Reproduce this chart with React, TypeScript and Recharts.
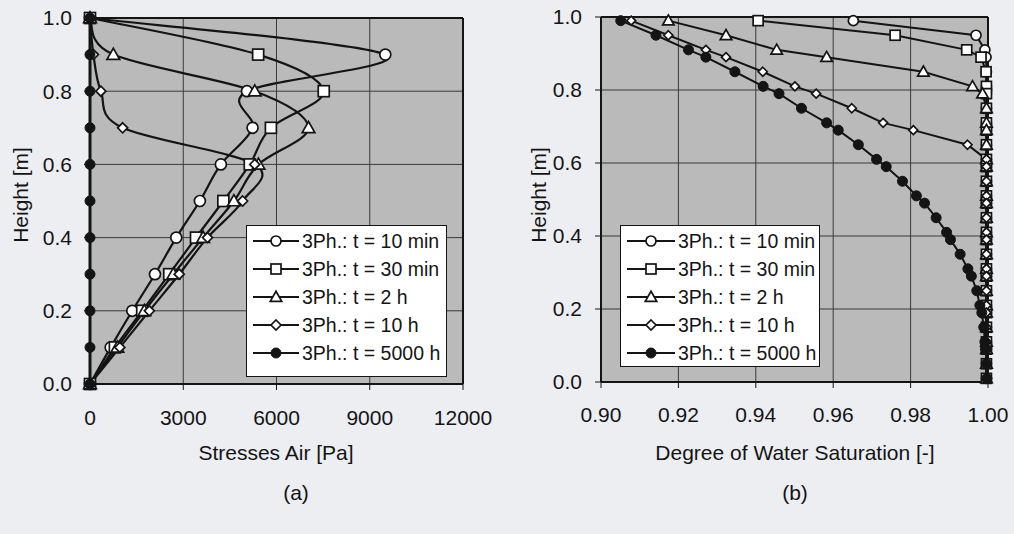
import React from "react";
import { LineChart, Line, XAxis, YAxis, CartesianGrid, ReferenceLine } from "recharts";

// (a) stresses in the air phase, nodes every 0.1 m
const heightsA = [1.0, 0.9, 0.8, 0.7, 0.6, 0.5, 0.4, 0.3, 0.2, 0.1, 0.0];
const stress10min = [0, 9500, 5050, 5230, 4210, 3535, 2775, 2090, 1360, 665, 0];
const stress30min = [0, 5410, 7520, 5820, 5140, 4290, 3410, 2550, 1680, 800, 0];
const stress2h = [0, 750, 5300, 7030, 5420, 4630, 3640, 2680, 1750, 880, 0];
const stress10h = [0, 110, 350, 1050, 5300, 4910, 3780, 2870, 1910, 960, 0];
const stress5000h = [0, 0, 0, 0, 0, 0, 0, 0, 0, 0, 0];
const stressTicks = [0, 3000, 6000, 9000, 12000];

// (b) degree of water saturation
const heightsB = [
  0.99, 0.95, 0.91, 0.89, 0.85, 0.81, 0.79, 0.75, 0.71, 0.69, 0.65, 0.61, 0.59, 0.55, 0.51,
  0.49, 0.45, 0.41, 0.39, 0.35, 0.31, 0.29, 0.25, 0.21, 0.19, 0.15, 0.11, 0.09, 0.05, 0.01,
];
const sat10min = [
  0.9652, 0.9969, 0.9992, 0.9995, 0.9996, 0.9996, 0.9996, 0.9996, 0.9996, 0.9996, 0.9996, 0.9996, 0.9996, 0.9996, 0.9996,
  0.9996, 0.9996, 0.9996, 0.9996, 0.9996, 0.9996, 0.9996, 0.9996, 0.9996, 0.9996, 0.9996, 0.9996, 0.9996, 0.9996, 0.9996,
];
const sat30min = [
  0.9406, 0.976, 0.9945, 0.9982, 0.9995, 0.9996, 0.9996, 0.9996, 0.9996, 0.9996, 0.9996, 0.9996, 0.9996, 0.9996, 0.9996,
  0.9996, 0.9996, 0.9996, 0.9996, 0.9996, 0.9996, 0.9996, 0.9996, 0.9996, 0.9996, 0.9996, 0.9996, 0.9996, 0.9996, 0.9996,
];
const sat2h = [
  0.9174, 0.9323, 0.9454, 0.9583, 0.9833, 0.996, 0.9986, 0.9996, 0.9996, 0.9996, 0.9996, 0.9996, 0.9996, 0.9996, 0.9996,
  0.9996, 0.9996, 0.9996, 0.9996, 0.9996, 0.9996, 0.9996, 0.9996, 0.9996, 0.9996, 0.9996, 0.9996, 0.9996, 0.9996, 0.9996,
];
const sat10h = [
  0.9078, 0.9174, 0.9271, 0.9323, 0.9418, 0.9501, 0.9556, 0.9648, 0.9729, 0.9807, 0.9947, 0.9996, 0.9996, 0.9996, 0.9996,
  0.9996, 0.9996, 0.9996, 0.9996, 0.9996, 0.9996, 0.9996, 0.9996, 0.9996, 0.9996, 0.9996, 0.9996, 0.9996, 0.9996, 0.9996,
];
const sat5000h = [
  0.9051, 0.9142, 0.9226, 0.9271, 0.9346, 0.9419, 0.946, 0.9518, 0.9583, 0.9613, 0.9665, 0.9712, 0.9737, 0.9779, 0.9815,
  0.9836, 0.9866, 0.9893, 0.9903, 0.9928, 0.9948, 0.9957, 0.9971, 0.9979, 0.9984, 0.9989, 0.9992, 0.9994, 0.9996, 0.9997,
];
const satTicks = [0.9, 0.92, 0.94, 0.96, 0.98, 1.0];
const heightTicks = [0, 0.2, 0.4, 0.6, 0.8, 1.0];

const labels = ["3Ph.: t = 10 min", "3Ph.: t = 30 min", "3Ph.: t = 2 h", "3Ph.: t = 10 h", "3Ph.: t = 5000 h"];
const shapes = ["circle", "square", "triangle", "diamond", "dot"];

const INK = "#141414";
const FONT = "'Liberation Sans', Arial, sans-serif";
const PLOT_BG = "#bababa";
const GRID = "#3a3a3a";

const toPoints = (xs: number[], ys: number[]) => ys.map((y, i) => ({ x: xs[i], y }));

const seriesA = [stress10min, stress30min, stress2h, stress10h, stress5000h].map((xs, i) => ({
  name: labels[i],
  shape: shapes[i],
  data: toPoints(xs, heightsA),
}));
const seriesB = [sat10min, sat30min, sat2h, sat10h, sat5000h].map((xs, i) => ({
  name: labels[i],
  shape: shapes[i],
  data: toPoints(xs, heightsB),
}));

// Excel-like smoothed line (Catmull-Rom through the points)
function excelSmooth(context: any) {
  let pts: number[][] = [];
  return {
    areaStart() {},
    areaEnd() {},
    lineStart() {
      pts = [];
    },
    point(x: number, y: number) {
      pts.push([x, y]);
    },
    lineEnd() {
      if (!pts.length) return;
      context.moveTo(pts[0][0], pts[0][1]);
      for (let i = 0; i < pts.length - 1; i++) {
        const p0 = pts[i - 1] || pts[i];
        const p1 = pts[i];
        const p2 = pts[i + 1];
        const p3 = pts[i + 2] || p2;
        context.bezierCurveTo(
          p1[0] + (p2[0] - p0[0]) / 6,
          p1[1] + (p2[1] - p0[1]) / 6,
          p2[0] - (p3[0] - p1[0]) / 6,
          p2[1] - (p3[1] - p1[1]) / 6,
          p2[0],
          p2[1]
        );
      }
    },
  };
}

function Marker({ shape, cx, cy, r }: { shape: string; cx: number; cy: number; r: number }) {
  if (cx == null || cy == null) return null;
  const common = { stroke: INK, strokeWidth: 1.7, fill: "#fff" };
  if (shape === "circle") return <circle cx={cx} cy={cy} r={r} {...common} />;
  if (shape === "dot") return <circle cx={cx} cy={cy} r={r} fill={INK} stroke={INK} />;
  if (shape === "square") return <rect x={cx - r} y={cy - r} width={2 * r} height={2 * r} {...common} />;
  if (shape === "triangle") {
    const t = r * 1.15;
    return <polygon points={`${cx},${cy - t} ${cx + t},${cy + t * 0.75} ${cx - t},${cy + t * 0.75}`} {...common} />;
  }
  return <polygon points={`${cx},${cy - r} ${cx + r},${cy} ${cx},${cy + r} ${cx - r},${cy}`} {...common} />;
}

const sizeA: Record<string, number> = { circle: 5.5, square: 5.5, triangle: 5.5, diamond: 5, dot: 5 };
const sizeB: Record<string, number> = { circle: 5, square: 5, triangle: 5, diamond: 4.5, dot: 5 };

const dotFor = (shape: string, r: number, tag: string) => (p: any) =>
  <Marker key={`${tag}-${p.index}`} shape={shape} cx={p.cx} cy={p.cy} r={r} />;

function LegendBox({ left, top, width, height, lineW }: { left: number; top: number; width: number; height: number; lineW: number }) {
  return (
    <div style={{ position: "absolute", left, top, width, height, boxSizing: "border-box", background: "#fff", border: `1px solid ${INK}`, paddingTop: 1, paddingLeft: 6 }}>
      {labels.map((l, i) => (
        <div key={l} style={{ height: 28, display: "flex", alignItems: "center" }}>
          <svg width={lineW} height={16} style={{ flex: "none" }}>
            <line x1={0} y1={8} x2={lineW} y2={8} stroke={INK} strokeWidth={2} />
            <Marker shape={shapes[i]} cx={lineW / 2} cy={8} r={5} />
          </svg>
          <span style={{ marginLeft: 3, fontSize: 19.5, color: INK, whiteSpace: "nowrap" }}>{l}</span>
        </div>
      ))}
    </div>
  );
}

function Text({ x, y, children, rotate }: { x: number; y: number; children: React.ReactNode; rotate?: boolean }) {
  return (
    <div style={{ position: "absolute", left: x, top: y, transform: `translate(-50%, -50%)${rotate ? " rotate(-90deg)" : ""}`, fontSize: 21, lineHeight: 1, color: INK, whiteSpace: "nowrap" }}>
      {children}
    </div>
  );
}

const tickStyle = { fontSize: 21, fill: INK, fontFamily: FONT };

export default function App() {
  return (
    <div style={{ position: "absolute", left: 0, top: 0, width: 1014, height: 534, background: "#eceef2", fontFamily: FONT, overflow: "hidden" }}>
      <div style={{ position: "absolute", left: 0, top: 0 }}>
        <LineChart width={500} height={470} margin={{ top: 18, right: 37, bottom: 0, left: 0 }}>
          <CartesianGrid fill={PLOT_BG} stroke={GRID} strokeWidth={1} horizontalValues={heightTicks} verticalValues={stressTicks} />
          <XAxis type="number" dataKey="x" domain={[0, 12000]} ticks={stressTicks} height={86} tickSize={6} tickMargin={20}
            tick={tickStyle} axisLine={{ stroke: INK, strokeWidth: 2 }} tickLine={{ stroke: INK }} />
          <YAxis type="number" dataKey="y" domain={[0, 1]} ticks={heightTicks} width={90} tickSize={6} tickMargin={12}
            tick={tickStyle} tickFormatter={(v: number) => v.toFixed(1)} axisLine={{ stroke: INK, strokeWidth: 2 }} tickLine={{ stroke: INK }} />
          <ReferenceLine x={12000} stroke={INK} strokeWidth={2} />
          <ReferenceLine y={1} stroke={INK} strokeWidth={2} />
          {seriesA.map((s) => (
            <Line key={s.name} data={s.data} dataKey="y" name={s.name} type={excelSmooth as any} stroke={INK}
              strokeWidth={s.shape === "dot" ? 3 : 2.2}
              dot={dotFor(s.shape, sizeA[s.shape], "a" + s.shape)} activeDot={false} isAnimationActive={false} />
          ))}
        </LineChart>
      </div>
      <div style={{ position: "absolute", left: 500, top: 0 }}>
        <LineChart width={514} height={470} margin={{ top: 17, right: 26, bottom: 0, left: 0 }}>
          <CartesianGrid fill={PLOT_BG} stroke={GRID} strokeWidth={1} horizontalValues={heightTicks} verticalValues={satTicks} />
          <XAxis type="number" dataKey="x" domain={[0.9, 1.0]} ticks={satTicks} height={88} tickSize={6} tickMargin={19}
            tick={tickStyle} tickFormatter={(v: number) => v.toFixed(2)} axisLine={{ stroke: INK, strokeWidth: 2 }} tickLine={{ stroke: INK }} />
          <YAxis type="number" dataKey="y" domain={[0, 1]} ticks={heightTicks} width={101} tickSize={6} tickMargin={13}
            tick={tickStyle} tickFormatter={(v: number) => v.toFixed(1)} axisLine={{ stroke: INK, strokeWidth: 2 }} tickLine={{ stroke: INK }} />
          <ReferenceLine x={1.0} stroke={INK} strokeWidth={2} />
          <ReferenceLine y={1} stroke={INK} strokeWidth={2} />
          {seriesB.map((s) => (
            <Line key={s.name} data={s.data} dataKey="y" name={s.name} type="linear" stroke={INK} strokeWidth={2}
              dot={dotFor(s.shape, sizeB[s.shape], "b" + s.shape)} activeDot={false} isAnimationActive={false} />
          ))}
        </LineChart>
      </div>

      <LegendBox left={246} top={225} width={201} height={152} lineW={46} />
      <LegendBox left={620} top={225} width={200} height={142} lineW={48} />

      <Text x={20} y={195} rotate>Height [m]</Text>
      <Text x={538} y={195} rotate>Height [m]</Text>
      <Text x={276} y={452}>Stresses Air [Pa]</Text>
      <Text x={795} y={452}>Degree of Water Saturation [-]</Text>
      <Text x={296} y={492}>(a)</Text>
      <Text x={795} y={492}>(b)</Text>
    </div>
  );
}
